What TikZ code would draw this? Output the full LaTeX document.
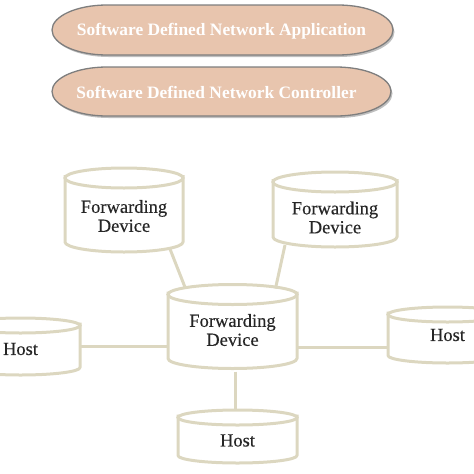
\documentclass[tikz,border=0pt]{standalone}
\usepackage{fontspec}
\setmainfont{Liberation Serif}
\newfontface\devface{Liberation Serif}[FakeBold=0.35]
\usetikzlibrary{calc}
\definecolor{pillfill}{HTML}{E8C5AE}
\definecolor{pillline}{HTML}{7E7E7E}
\definecolor{cylcol}{HTML}{DCD7C0}
\tikzset{
  cylline/.style={draw=cylcol, line width=3pt},
  conn/.style={draw=cylcol, line width=3pt},
  devtext/.style={font=\devface\fontsize{18.5}{19}\selectfont, align=center, text=black!85, inner sep=0pt},
  pilltext/.style={font=\bfseries\fontsize{17.4}{20}\selectfont, text=white, inner sep=0pt},
  boxnode/.style={inner sep=0pt, outer sep=0pt}
}
% name cx cy w h
\newcommand\pillshape[5]{%
  \node[boxnode, minimum width=#4, minimum height=#5] (#1) at (#2,#3) {};
  \fill[black!25] ({#2-#4/2+55+1.5},{#3-#5/2+2}) -- ({#2+#4/2-55+1.5},{#3-#5/2+2}) arc(-90:90:55 and {#5/2}) -- ({#2-#4/2+55+1.5},{#3+#5/2+2}) arc(90:270:55 and {#5/2}) -- cycle;
  \draw[pillline, fill=pillfill, line width=1.3pt] ({#2-#4/2+55},{#3-#5/2}) -- ({#2+#4/2-55},{#3-#5/2}) arc(-90:90:55 and {#5/2}) -- ({#2-#4/2+55},{#3+#5/2}) arc(90:270:55 and {#5/2}) -- cycle;
}
% name cx cy w h ry text textdy
\newcommand\cyl[8]{%
  \node[boxnode, minimum width=#4, minimum height=#5] (#1) at (#2,#3) {};
  \draw[cylline, line join=round] ({#2-#4/2},{#3-#5/2+#6-3}) -- ({#2-#4/2},{#3+#5/2-#6}) arc(180:0:{#4/2} and #6) -- ({#2+#4/2},{#3-#5/2+#6-3});
  \draw[cylline] (#2,{#3-#5/2+#6}) ellipse [x radius={#4/2}, y radius=#6];
  \node[devtext] (#1t) at (#2,{#3+#8}) {#7};
}
\begin{document}
\begin{tikzpicture}[x=1pt, y=-1pt]
  \useasboundingbox (0,0) rectangle (474,474);
  \pillshape{app}{222.5}{30}{341}{50}
  \node[pilltext] (appt) at (221.5,31) {Software Defined Network Application};
  \pillshape{ctl}{221.5}{91.5}{339}{49}
  \node[pilltext] (ctlt) at (216.5,92) {Software Defined Network Controller};

  \cyl{tl}{124}{210}{118}{84}{10}{Forwarding\\Device}{6}
  \cyl{tr}{335}{209.5}{124}{75}{10}{Forwarding\\Device}{8}
  \cyl{c}{232.5}{326.5}{129}{84}{10}{Forwarding\\Device}{3.5}
  \cyl{hl}{20.5}{346.5}{119}{57}{7.5}{Host}{2.5}
  \cyl{hr}{447.5}{335}{119}{56}{7.5}{Host}{0}
  \cyl{hb}{237.5}{436.5}{119}{53}{7.5}{Host}{4}

  \draw[conn] ($(tl.south)+(46,-3)$) -- ($(c.north)+(-47,4)$);
  \draw[conn] ($(tr.south)+(-50,-2)$) -- ($(c.north)+(43,4)$);
  \draw[conn] (hl.east) -- (hl.east -| c.west);
  \coordinate (rj) at ($(hr.west)+(0,12)$);
  \draw[conn] (rj) -- (rj -| c.east);
  \coordinate (bj) at ($(c.south)+(2.5,3)$);
  \draw[conn] (bj) -- (bj |- hb.north);
\end{tikzpicture}
\end{document}
